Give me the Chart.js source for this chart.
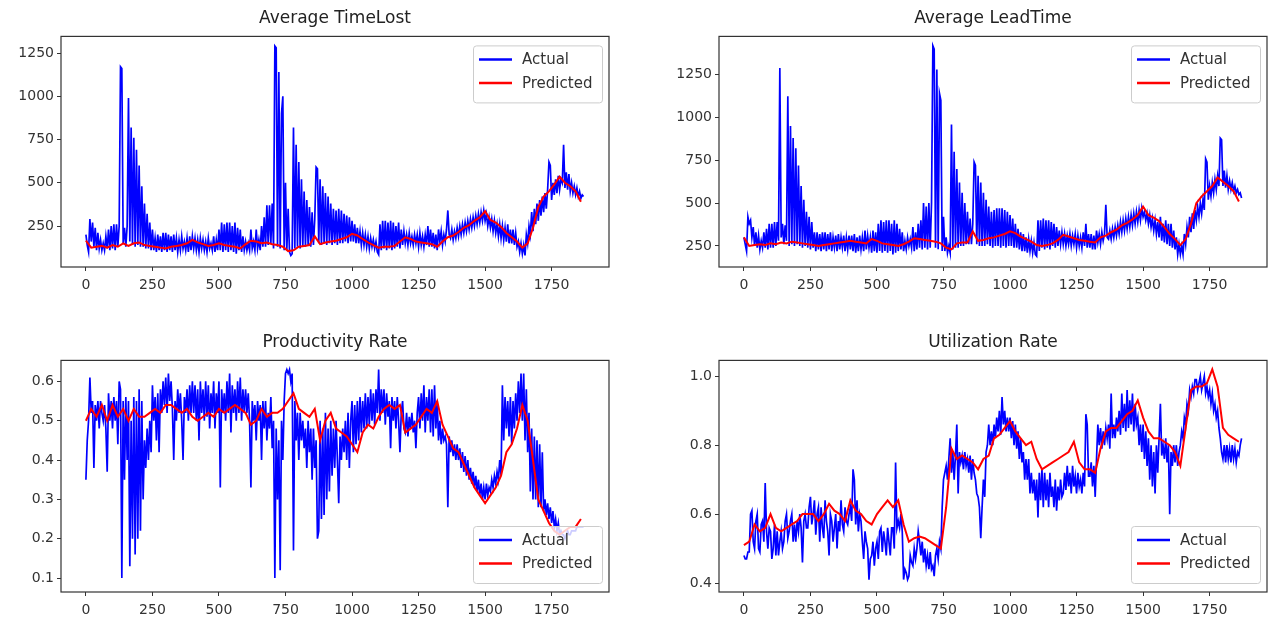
<!DOCTYPE html>
<html>
<head>
<meta charset="utf-8">
<script src="https://cdn.jsdelivr.net/npm/chart.js@4.4.0/dist/chart.umd.min.js"></script>
<style>
  body { margin: 0; background: #fff; width: 1268px; height: 621px; overflow: hidden; position: relative; }
  canvas { position: absolute; }
</style>
</head>
<body>
<canvas id="timeLost" width="620" height="297" style="left:0;top:0"></canvas>
<canvas id="leadTime" width="610" height="297" style="left:658px;top:0"></canvas>
<canvas id="productivity" width="620" height="298" style="left:0;top:324px"></canvas>
<canvas id="utilization" width="610" height="298" style="left:658px;top:324px"></canvas>
<script>
// x positions: actual every 5 samples, predicted every 20
const xTicks = [0, 250, 500, 750, 1000, 1250, 1500, 1750];

const tlTicks = [250, 500, 750, 1000, 1250];
const tlTickLabels = ["250", "500", "750", "1000", "1250"];
const ltTicks = [250, 500, 750, 1000, 1250];
const ltTickLabels = ["250", "500", "750", "1000", "1250"];
const prTicks = [0.1, 0.2, 0.3, 0.4, 0.5, 0.6];
const prTickLabels = ["0.1", "0.2", "0.3", "0.4", "0.5", "0.6"];
const utTicks = [0.4, 0.6, 0.8, 1.0];
const utTickLabels = ["0.4", "0.6", "0.8", "1.0"];

const timeLostActual = [
  200, 140, 100, 290, 160, 270, 130, 240, 110, 210, 120, 170, 110, 150, 110, 190, 120, 230, 110, 250,
  120, 260, 110, 260, 130, 250, 1170, 1160, 150, 240, 130, 250, 990, 160, 820, 140, 760, 130, 690, 140,
  600, 130, 480, 130, 380, 120, 320, 120, 270, 110, 230, 110, 180, 100, 200, 110, 190, 100, 210, 110,
  210, 100, 200, 110, 190, 100, 200, 110, 180, 100, 170, 110, 190, 120, 160, 110, 180, 100, 190, 110,
  190, 120, 180, 110, 170, 100, 180, 120, 170, 110, 160, 100, 180, 120, 150, 110, 190, 100, 170, 110,
  230, 110, 270, 100, 260, 110, 270, 100, 270, 110, 250, 100, 270, 90, 240, 110, 230, 100, 190, 110,
  160, 110, 150, 110, 230, 120, 160, 110, 230, 120, 170, 110, 250, 130, 300, 130, 370, 140, 370, 150,
  380, 120, 1290, 1280, 130, 1140, 120, 900, 1000, 110, 500, 110, 350, 100, 80, 90, 820, 120, 720, 130,
  620, 120, 520, 130, 450, 130, 400, 140, 360, 130, 330, 140, 290, 590, 580, 150, 520, 140, 480, 150,
  440, 140, 420, 150, 380, 140, 350, 150, 340, 140, 350, 150, 340, 150, 320, 160, 310, 150, 300, 160,
  280, 160, 260, 150, 240, 150, 220, 140, 210, 140, 200, 130, 190, 120, 180, 130, 170, 120, 160, 100,
  85, 260, 110, 280, 120, 280, 110, 270, 120, 280, 110, 270, 120, 250, 130, 270, 120, 230, 140, 220,
  150, 200, 140, 210, 150, 190, 140, 200, 150, 200, 130, 210, 140, 190, 130, 200, 140, 250, 130, 230,
  130, 210, 120, 200, 110, 230, 160, 220, 140, 200, 160, 230, 340, 200, 180, 230, 170, 220, 180, 240,
  190, 250, 200, 260, 210, 270, 220, 280, 230, 290, 240, 300, 250, 310, 260, 320, 270, 330, 280, 340,
  280, 320, 250, 300, 240, 290, 220, 280, 210, 260, 190, 260, 180, 250, 170, 240, 160, 260, 150, 230,
  150, 230, 140, 210, 130, 160, 100, 150, 90, 140, 80, 200, 150, 250, 200, 330, 220, 350, 260, 380,
  280, 400, 310, 420, 330, 440, 350, 460, 620, 600, 400, 500, 430, 520, 440, 540, 460, 520, 500, 720,
  470, 560, 460, 550, 450, 500, 440, 480, 430, 470, 420, 450, 410, 430, 420
];
const timeLostPredicted = [
  165, 125, 130, 135, 125, 140, 130, 150, 135, 150,
  155, 140, 135, 130, 125, 120, 130, 135, 140, 150,
  170, 155, 145, 135, 140, 150, 140, 135, 130, 120,
  145, 165, 160, 150, 155, 145, 140, 130, 105, 110,
  130, 135, 140, 190, 145, 155, 160, 165, 175, 185,
  205, 195, 175, 155, 140, 125, 130, 130, 135, 160,
  185, 175, 160, 155, 150, 145, 130, 160, 185, 195,
  215, 240, 255, 280, 300, 335, 285, 270, 245, 210,
  185, 160, 125, 150, 240, 360, 420, 450, 490, 535,
  500, 480, 450, 390
];

const leadTimeActual = [
  300, 260, 220, 420, 380, 400, 300, 360, 250, 330, 240, 310, 230, 280, 240, 330, 240, 350, 230, 380,
  240, 380, 240, 390, 250, 390, 280, 1290, 300, 380, 260, 370, 280, 1125, 250, 950, 260, 880, 250, 820,
  260, 720, 250, 600, 240, 520, 250, 450, 240, 420, 230, 390, 240, 330, 220, 330, 230, 320, 220, 330,
  230, 330, 220, 320, 230, 330, 220, 300, 240, 310, 220, 320, 230, 300, 240, 310, 220, 300, 230, 310,
  230, 310, 220, 320, 210, 300, 220, 310, 230, 300, 220, 340, 230, 310, 240, 300, 210, 340, 220, 330,
  210, 380, 220, 400, 210, 390, 220, 400, 210, 400, 220, 380, 200, 400, 210, 380, 220, 350, 230, 330,
  220, 280, 230, 300, 250, 290, 240, 360, 220, 330, 230, 380, 240, 400, 230, 500, 240, 480, 230, 500,
  240, 500, 1420, 1400, 240, 1280, 230, 1140, 1100, 220, 420, 220, 300, 210, 250, 210, 960, 230, 800, 240,
  700, 240, 620, 250, 560, 250, 500, 260, 450, 260, 410, 260, 380, 740, 720, 260, 660, 250, 620, 250,
  560, 250, 520, 260, 480, 250, 450, 240, 460, 250, 470, 250, 470, 240, 470, 250, 460, 240, 450, 250,
  430, 250, 410, 240, 380, 240, 350, 230, 330, 220, 320, 220, 300, 210, 290, 220, 280, 210, 270, 200,
  190, 400, 220, 400, 240, 410, 230, 400, 240, 400, 230, 390, 250, 380, 240, 360, 250, 340, 260, 330,
  260, 320, 250, 310, 260, 320, 250, 310, 260, 320, 240, 310, 250, 300, 240, 330, 250, 380, 240, 320,
  240, 320, 230, 310, 230, 340, 270, 320, 260, 330, 280, 320, 490, 300, 290, 340, 290, 350, 300, 360,
  310, 370, 320, 390, 330, 400, 340, 410, 350, 420, 360, 430, 370, 440, 380, 450, 390, 460, 400, 470,
  420, 450, 400, 440, 380, 430, 360, 410, 340, 400, 320, 390, 300, 420, 280, 380, 270, 400, 260, 380,
  250, 380, 240, 340, 230, 300, 200, 260, 200, 250, 200, 320, 260, 360, 300, 420, 330, 440, 350, 460,
  400, 480, 420, 500, 440, 520, 460, 760, 740, 520, 600, 540, 620, 560, 640, 580, 660, 600, 880, 870,
  600, 690, 590, 660, 580, 630, 580, 620, 570, 600, 560, 580, 550, 560, 530
];
const leadTimePredicted = [
  300, 250, 255, 260, 255, 265, 260, 270, 265, 275,
  270, 265, 260, 255, 250, 255, 260, 265, 270, 275,
  280, 275, 270, 265, 290, 280, 265, 260, 255, 250,
  260, 275, 295, 290, 285, 280, 275, 265, 240, 230,
  265, 270, 270, 335, 280, 285, 295, 300, 310, 320,
  335, 325, 305, 290, 275, 255, 250, 255, 265, 285,
  315, 305, 295, 285, 280, 275, 270, 300, 310, 330,
  345, 370, 385, 405, 430, 480, 430, 415, 395, 360,
  320, 290, 255, 290, 380, 500, 540, 570, 600, 650,
  625, 600, 570, 510
];

const productivityActual = [
  0.35, 0.45, 0.50, 0.61, 0.52, 0.55, 0.38, 0.54, 0.50, 0.55, 0.48, 0.55, 0.52, 0.50, 0.54, 0.48, 0.37, 0.57, 0.50, 0.55,
  0.48, 0.56, 0.50, 0.55, 0.44, 0.60, 0.58, 0.10, 0.55, 0.35, 0.56, 0.40, 0.55, 0.13, 0.50, 0.20, 0.56, 0.16, 0.55, 0.20,
  0.58, 0.22, 0.55, 0.30, 0.45, 0.38, 0.48, 0.40, 0.50, 0.42, 0.59, 0.50, 0.56, 0.45, 0.57, 0.42, 0.58, 0.52, 0.60, 0.54,
  0.61, 0.52, 0.62, 0.55, 0.60, 0.53, 0.40, 0.55, 0.50, 0.58, 0.52, 0.57, 0.50, 0.40, 0.56, 0.52, 0.58, 0.50, 0.59, 0.52,
  0.60, 0.52, 0.59, 0.50, 0.58, 0.45, 0.60, 0.52, 0.58, 0.50, 0.60, 0.51, 0.59, 0.48, 0.57, 0.52, 0.60, 0.48, 0.57, 0.52,
  0.60, 0.33, 0.58, 0.52, 0.57, 0.50, 0.60, 0.52, 0.62, 0.47, 0.59, 0.52, 0.58, 0.50, 0.60, 0.52, 0.61, 0.50, 0.58, 0.52,
  0.58, 0.52, 0.57, 0.50, 0.33, 0.55, 0.50, 0.54, 0.45, 0.55, 0.50, 0.54, 0.40, 0.55, 0.48, 0.55, 0.45, 0.52, 0.48, 0.56,
  0.43, 0.50, 0.10, 0.48, 0.30, 0.45, 0.12, 0.50, 0.40, 0.55, 0.62, 0.63, 0.62, 0.63, 0.60, 0.62, 0.17, 0.55, 0.45, 0.52,
  0.40, 0.52, 0.45, 0.50, 0.43, 0.48, 0.38, 0.50, 0.42, 0.48, 0.35, 0.48, 0.38, 0.45, 0.20, 0.22, 0.50, 0.25, 0.48, 0.26,
  0.52, 0.30, 0.48, 0.32, 0.50, 0.36, 0.48, 0.38, 0.50, 0.40, 0.29, 0.46, 0.40, 0.48, 0.42, 0.50, 0.40, 0.52, 0.38, 0.50,
  0.55, 0.42, 0.54, 0.44, 0.55, 0.45, 0.56, 0.47, 0.55, 0.48, 0.57, 0.48, 0.56, 0.49, 0.58, 0.50, 0.57, 0.49, 0.58, 0.52,
  0.63, 0.50, 0.58, 0.52, 0.58, 0.49, 0.57, 0.51, 0.55, 0.43, 0.56, 0.50, 0.55, 0.48, 0.56, 0.50, 0.42, 0.52, 0.55, 0.48,
  0.47, 0.52, 0.46, 0.51, 0.48, 0.52, 0.47, 0.50, 0.43, 0.52, 0.56, 0.48, 0.57, 0.50, 0.59, 0.47, 0.56, 0.50, 0.58, 0.47,
  0.58, 0.46, 0.59, 0.48, 0.55, 0.45, 0.50, 0.44, 0.48, 0.45, 0.46, 0.44, 0.28, 0.46, 0.42, 0.45, 0.41, 0.44, 0.40, 0.44,
  0.40, 0.43, 0.38, 0.42, 0.37, 0.41, 0.36, 0.40, 0.35, 0.38, 0.34, 0.37, 0.33, 0.36, 0.32, 0.35, 0.31, 0.34, 0.30, 0.33,
  0.30, 0.34, 0.31, 0.33, 0.32, 0.35, 0.33, 0.36, 0.34, 0.37, 0.35, 0.40, 0.36, 0.59, 0.45, 0.56, 0.48, 0.55, 0.46, 0.56,
  0.44, 0.55, 0.48, 0.57, 0.50, 0.60, 0.52, 0.62, 0.50, 0.62, 0.45, 0.58, 0.42, 0.52, 0.32, 0.48, 0.30, 0.46, 0.30, 0.45,
  0.28, 0.44, 0.28, 0.42, 0.27, 0.30, 0.26, 0.29, 0.25, 0.28, 0.24, 0.27, 0.23, 0.25, 0.22, 0.24, 0.21, 0.22, 0.21, 0.21,
  0.20, 0.21, 0.22, 0.21, 0.21, 0.22, 0.22, 0.22, 0.22, 0.23, 0.23, 0.23, 0.23, 0.23, 0.23
];
const productivityPredicted = [
  0.50, 0.53, 0.51, 0.54, 0.50, 0.54, 0.51, 0.53, 0.50, 0.53,
  0.51, 0.51, 0.52, 0.53, 0.52, 0.54, 0.54, 0.53, 0.52, 0.53,
  0.51, 0.50, 0.51, 0.52, 0.51, 0.53, 0.52, 0.53, 0.54, 0.53,
  0.52, 0.49, 0.50, 0.53, 0.51, 0.52, 0.52, 0.53, 0.55, 0.57,
  0.53, 0.52, 0.51, 0.53, 0.45, 0.50, 0.52, 0.48, 0.47, 0.46,
  0.44, 0.42, 0.47, 0.49, 0.48, 0.51, 0.53, 0.54, 0.53, 0.54,
  0.47, 0.48, 0.49, 0.51, 0.53, 0.52, 0.55, 0.49, 0.46, 0.43,
  0.42, 0.39, 0.36, 0.33, 0.31, 0.29, 0.31, 0.33, 0.36, 0.42,
  0.44, 0.48, 0.54, 0.50, 0.40, 0.30, 0.27, 0.24, 0.22, 0.21,
  0.22, 0.23, 0.23, 0.25
];

const utilizationActual = [
  0.48, 0.47, 0.47, 0.49, 0.49, 0.60, 0.61, 0.52, 0.50, 0.58, 0.60, 0.50, 0.49, 0.57, 0.58, 0.52, 0.69, 0.55, 0.50, 0.56,
  0.55, 0.47, 0.50, 0.57, 0.48, 0.55, 0.48, 0.52, 0.55, 0.50, 0.52, 0.58, 0.60, 0.53, 0.55, 0.58, 0.60, 0.52, 0.57, 0.52,
  0.58, 0.55, 0.60, 0.56, 0.46, 0.58, 0.60, 0.56, 0.56, 0.62, 0.65, 0.57, 0.60, 0.64, 0.54, 0.60, 0.62, 0.52, 0.62, 0.56,
  0.53, 0.64, 0.58, 0.55, 0.48, 0.60, 0.58, 0.52, 0.56, 0.60, 0.50, 0.58, 0.55, 0.64, 0.57, 0.55, 0.62, 0.58, 0.57, 0.60,
  0.62, 0.58, 0.73, 0.70, 0.57, 0.64, 0.55, 0.60, 0.58, 0.52, 0.47, 0.55, 0.52, 0.50, 0.41, 0.47, 0.48, 0.52, 0.45, 0.50,
  0.52, 0.47, 0.55, 0.56, 0.49, 0.55, 0.52, 0.48, 0.56, 0.52, 0.48, 0.56, 0.56, 0.50, 0.75, 0.56, 0.58, 0.56, 0.60, 0.55,
  0.41, 0.44, 0.43, 0.41, 0.42, 0.48, 0.46, 0.45, 0.50, 0.47, 0.50, 0.55, 0.52, 0.48, 0.52, 0.46, 0.50, 0.45, 0.48, 0.44,
  0.49, 0.44, 0.45, 0.42, 0.48, 0.50, 0.47, 0.52, 0.50, 0.62, 0.70, 0.72, 0.74, 0.70, 0.76, 0.82, 0.72, 0.78, 0.70, 0.77,
  0.86, 0.66, 0.78, 0.75, 0.77, 0.73, 0.78, 0.74, 0.76, 0.72, 0.77, 0.70, 0.76, 0.72, 0.70, 0.66, 0.65, 0.62, 0.53, 0.62,
  0.70, 0.65, 0.78, 0.80, 0.86, 0.80, 0.84, 0.80, 0.86, 0.82, 0.88, 0.84, 0.90, 0.83, 0.94, 0.86, 0.90, 0.84, 0.88, 0.84,
  0.88, 0.82, 0.87, 0.80, 0.86, 0.79, 0.84, 0.76, 0.82, 0.75, 0.78, 0.70, 0.76, 0.70, 0.76, 0.66, 0.72, 0.66, 0.70, 0.64,
  0.70, 0.59, 0.72, 0.64, 0.73, 0.62, 0.72, 0.64, 0.70, 0.62, 0.72, 0.65, 0.68, 0.62, 0.70, 0.61, 0.68, 0.64, 0.70, 0.65,
  0.66, 0.72, 0.67, 0.74, 0.68, 0.72, 0.66, 0.74, 0.68, 0.71, 0.66, 0.72, 0.68, 0.70, 0.66, 0.72, 0.68, 0.89, 0.86, 0.71,
  0.71, 0.75, 0.68, 0.74, 0.65, 0.76, 0.86, 0.80, 0.85, 0.79, 0.84, 0.80, 0.85, 0.82, 0.86, 0.79, 0.95, 0.82, 0.86, 0.82,
  0.88, 0.84, 0.90, 0.83, 0.95, 0.85, 0.92, 0.84, 0.96, 0.85, 0.93, 0.86, 0.95, 0.84, 0.92, 0.86, 0.88, 0.80, 0.86, 0.78,
  0.86, 0.76, 0.84, 0.74, 0.82, 0.70, 0.80, 0.68, 0.78, 0.66, 0.80, 0.72, 0.82, 0.92, 0.77, 0.80, 0.76, 0.82, 0.75, 0.80,
  0.60, 0.78, 0.74, 0.80, 0.75, 0.80, 0.74, 0.78, 0.80, 0.84, 0.82, 0.88, 0.86, 0.92, 0.90, 0.96, 0.94, 0.97, 0.95, 0.99,
  0.99, 0.96, 0.98, 1.00, 0.96, 0.98, 1.00, 0.95, 0.97, 0.94, 0.96, 0.92, 0.95, 0.90, 0.92, 0.88, 0.90, 0.85, 0.82, 0.78,
  0.76, 0.80, 0.75, 0.80, 0.76, 0.79, 0.75, 0.80, 0.76, 0.79, 0.75, 0.78, 0.77, 0.80, 0.82
];
const utilizationPredicted = [
  0.51, 0.52, 0.57, 0.55, 0.56, 0.60, 0.56, 0.55, 0.56, 0.57,
  0.58, 0.60, 0.60, 0.60, 0.58, 0.60, 0.63, 0.61, 0.60, 0.58,
  0.64, 0.61, 0.60, 0.58, 0.57, 0.60, 0.62, 0.64, 0.62, 0.64,
  0.57, 0.52, 0.53, 0.535, 0.53, 0.52, 0.51, 0.50, 0.62, 0.79,
  0.76, 0.77, 0.76, 0.75, 0.73, 0.76, 0.77, 0.82, 0.83, 0.85,
  0.87, 0.84, 0.82, 0.80, 0.81, 0.76, 0.73, 0.74, 0.75, 0.76,
  0.77, 0.78, 0.81, 0.75, 0.73, 0.73, 0.72, 0.79, 0.84, 0.85,
  0.85, 0.87, 0.89, 0.90, 0.93, 0.88, 0.84, 0.82, 0.82, 0.81,
  0.80, 0.78, 0.74, 0.85, 0.96, 0.97, 0.97, 0.98, 1.02, 0.97,
  0.85, 0.83, 0.82, 0.81
];

Chart.defaults.font.family = "'DejaVu Sans', sans-serif";
Chart.defaults.color = "#333";

function toPoints(vals, step) {
  return vals.map((v, i) => ({ x: i * step, y: v }));
}

// box around the axes + legend inside it, matplotlib style
const frame = {
  id: "frame",
  afterDatasetsDraw(chart, args, opts) {
    const a = chart.chartArea;
    const ctx = chart.ctx;
    ctx.save();
    ctx.strokeStyle = "#333";
    ctx.lineWidth = 1.2;
    ctx.strokeRect(a.left, a.top, a.right - a.left, a.bottom - a.top);

    const w = 129, h = 57;
    const bx = a.right - 7 - w;
    const by = opts.legendAt === "top" ? a.top + 9 : a.bottom - 9 - h;
    ctx.beginPath();
    ctx.roundRect(bx + 0.5, by + 0.5, w, h, 3);
    ctx.fillStyle = "rgba(255,255,255,0.8)";
    ctx.fill();
    ctx.strokeStyle = "#ccc";
    ctx.lineWidth = 1;
    ctx.stroke();

    ctx.font = "15px 'DejaVu Sans', sans-serif";
    ctx.textBaseline = "middle";
    chart.data.datasets.forEach((ds, i) => {
      const y = by + 14 + i * 23.5;
      ctx.beginPath();
      ctx.moveTo(bx + 6, y);
      ctx.lineTo(bx + 39, y);
      ctx.strokeStyle = ds.borderColor;
      ctx.lineWidth = 2.5;
      ctx.stroke();
      ctx.fillStyle = "#333";
      ctx.fillText(ds.label, bx + 49, y + 1);
    });
    ctx.restore();
  }
};

function makeChart(id, title, actual, predicted, yMin, yMax, yTicks, yLabels, legendAt, padRight) {
  new Chart(document.getElementById(id), {
    type: "line",
    data: {
      datasets: [
        { label: "Actual", data: toPoints(actual, 5), borderColor: "#0000ff", borderWidth: 1.7, order: 1 },
        { label: "Predicted", data: toPoints(predicted, 20), borderColor: "#ff0000", borderWidth: 2, order: 0 }
      ]
    },
    options: {
      responsive: false,
      animation: false,
      elements: { point: { radius: 0 }, line: { tension: 0 } },
      layout: { padding: { left: 0, top: 0, bottom: 0, right: padRight } },
      plugins: {
        legend: { display: false },
        tooltip: { enabled: false },
        title: {
          display: true,
          text: title,
          fullSize: false,
          color: "#222",
          font: { size: 17, weight: "normal" },
          padding: { top: 8, bottom: 8 }
        },
        frame: { legendAt: legendAt }
      },
      scales: {
        x: {
          type: "linear",
          min: -93.6,
          max: 1965.6,
          afterBuildTicks: s => { s.ticks = xTicks.map(v => ({ value: v })); },
          afterFit: s => { s.height = 30; },
          grid: { drawOnChartArea: false, tickLength: 4, color: "#333" },
          border: { display: false },
          ticks: { padding: 6, color: "#333", font: { size: 14 }, maxRotation: 0, autoSkip: false, callback: v => String(v) }
        },
        y: {
          min: yMin,
          max: yMax,
          afterBuildTicks: s => { s.ticks = yTicks.map(v => ({ value: v })); },
          afterFit: s => { s.width = 61; },
          grid: { drawOnChartArea: false, tickLength: 4, color: "#333" },
          border: { display: false },
          ticks: { padding: 3, color: "#333", font: { size: 14 }, autoSkip: false, callback: (v, i) => yLabels[i] }
        }
      }
    },
    plugins: [frame]
  });
}

makeChart("timeLost", "Average TimeLost", timeLostActual, timeLostPredicted, 13, 1346, tlTicks, tlTickLabels, "top", 11);
makeChart("leadTime", "Average LeadTime", leadTimeActual, leadTimePredicted, 127, 1474, ltTicks, ltTickLabels, "top", 1);
makeChart("productivity", "Productivity Rate", productivityActual, productivityPredicted, 0.0644, 0.6534, prTicks, prTickLabels, "bottom", 11);
makeChart("utilization", "Utilization Rate", utilizationActual, utilizationPredicted, 0.374, 1.046, utTicks, utTickLabels, "bottom", 1);
</script>
</body>
</html>
